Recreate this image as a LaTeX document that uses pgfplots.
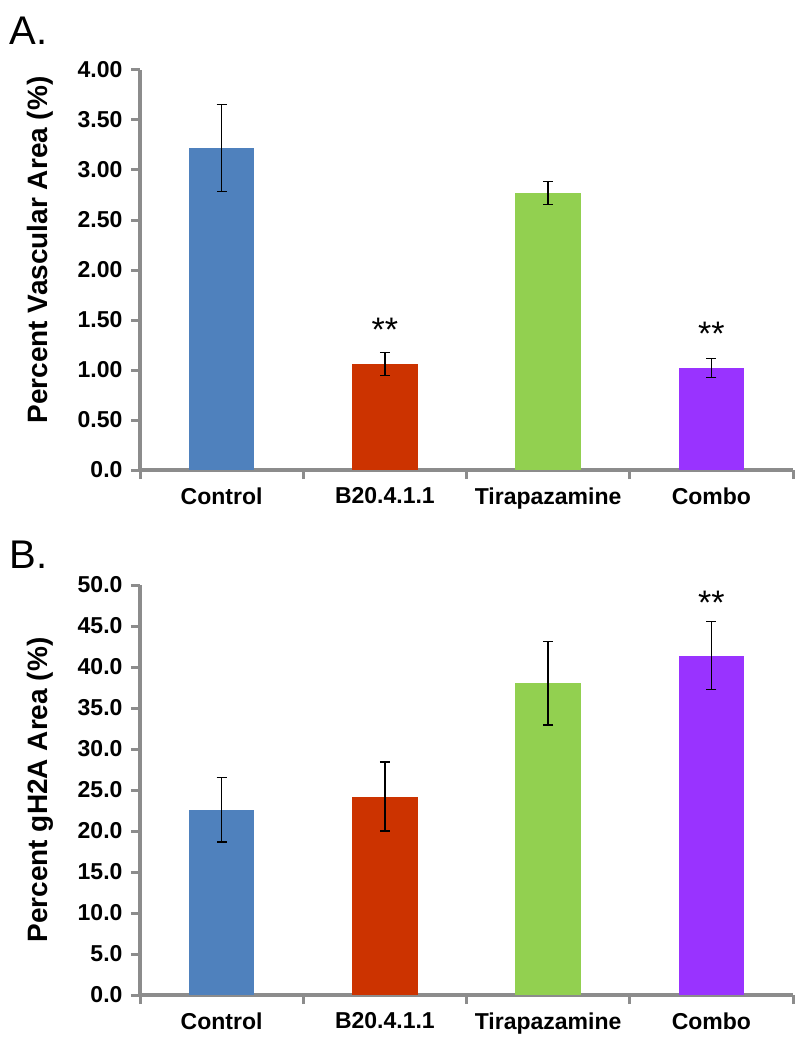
\documentclass[border=0pt]{standalone}
\usepackage{fontspec}
\setmainfont{Liberation Sans}
\usepackage{pgfplots}
\pgfplotsset{compat=1.18}
\definecolor{cblue}{HTML}{4F81BD}
\definecolor{cred}{HTML}{CC3300}
\definecolor{cgreen}{HTML}{92D050}
\definecolor{cpurple}{HTML}{9933FF}
\definecolor{axgray}{HTML}{8C8C8C}
\pgfplotsset{
 excel/.style={
  scale only axis, width=653pt,
  xmin=-0.5, xmax=3.5, ymin=0,
  axis x line=bottom, axis y line=left,
  axis line style={-, draw=axgray, line width=3.5pt},
  xtick={-0.5,0.5,1.5,2.5,3.5},
  x tick label as interval,
  xticklabels={Control,B20.4.1.1,Tirapazamine,Combo},
  tick align=outside,
  major tick length=9pt,
  tick style={draw=axgray, line width=3pt},
  ticklabel style={font=\fontsize{23}{26}\selectfont\bfseries},
  yticklabel style={xshift=-5pt},
  xticklabel style={yshift=-5pt},
  ylabel style={font=\fontsize{28}{30}\selectfont\bfseries, anchor=center},
  ybar, bar width=0.4,
  clip=false,
 },
 barp/.style={fill=#1, draw=none, bar shift=0pt,
  error bars/.cd, y dir=both, y explicit, error mark=|,
  error bar style={draw=black, line width=1.5pt},
  error mark options={draw=black, line width=1.5pt, mark size=5pt}},
}
\begin{document}
\begin{tikzpicture}
\useasboundingbox (0pt,0pt) rectangle (799pt,-1043pt);
\node[anchor=west, font=\fontsize{40}{44}\selectfont] at (6pt,-31pt) {A.};
\node[anchor=west, font=\fontsize{40}{44}\selectfont] at (6pt,-555pt) {B.};
\begin{axis}[excel, at={(140pt,-470pt)}, anchor=south west, height=400pt,
  ymax=4, ytick={0,0.5,1,1.5,2,2.5,3,3.5,4},
  yticklabels={0.0,0.50,1.00,1.50,2.00,2.50,3.00,3.50,4.00},
  ylabel={Percent Vascular Area (\%)},
  ylabel style={at={(axis description cs:-0.152,0.55)}}]
\addplot[barp=cblue] coordinates {(0,3.22) +- (0,0.435)};
\addplot[barp=cred] coordinates {(1,1.06) +- (0,0.115)};
\addplot[barp=cgreen] coordinates {(2,2.77) +- (0,0.115)};
\addplot[barp=cpurple] coordinates {(3,1.02) +- (0,0.095)};
\node[anchor=north, inner sep=0pt, font=\fontsize{34}{36}\selectfont] at (axis cs:1,1.52) {**};
\node[anchor=north, inner sep=0pt, font=\fontsize{34}{36}\selectfont] at (axis cs:3,1.48) {**};
\end{axis}
\begin{axis}[excel, at={(140pt,-995pt)}, anchor=south west, height=410pt,
  ymax=50, ytick={0,5,...,50},
  yticklabels={0.0,5.0,10.0,15.0,20.0,25.0,30.0,35.0,40.0,45.0,50.0},
  ylabel={Percent gH2A Area (\%)},
  ylabel style={at={(axis description cs:-0.152,0.5)}}]
\addplot[barp=cblue] coordinates {(0,22.6) +- (0,3.95)};
\addplot[barp=cred] coordinates {(1,24.2) +- (0,4.2)};
\addplot[barp=cgreen] coordinates {(2,38.0) +- (0,5.1)};
\addplot[barp=cpurple] coordinates {(3,41.4) +- (0,4.15)};
\node[anchor=north, inner sep=0pt, font=\fontsize{34}{36}\selectfont] at (axis cs:3,49.3) {**};
\end{axis}
\end{tikzpicture}
\end{document}
